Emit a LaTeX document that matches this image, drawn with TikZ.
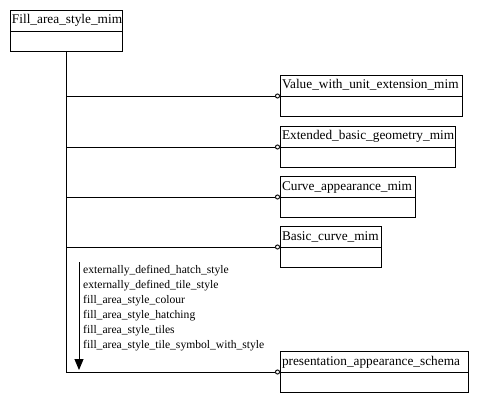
\documentclass[tikz,border=0pt]{standalone}
\usepackage{fontspec}
\setmainfont{Liberation Serif}
\usetikzlibrary{arrows.meta,positioning}

\begin{document}
\begin{tikzpicture}[x=1pt, y=-1pt,
    title/.style={draw, line width=0.9pt, outer sep=0pt, anchor=north west, minimum height=21pt, inner xsep=2pt, inner ysep=0pt, text height=10pt, text depth=3pt, font=\fontsize{13.3}{15}\selectfont},
    body/.style={draw, line width=0.9pt, outer sep=0pt, anchor=north west, minimum height=20pt},
    link/.style={line width=0.9pt, -{Circle[open, length=5pt, width=5pt]}},
    attr/.style={anchor=west, inner sep=0pt, font=\fontsize{11.6}{13}\selectfont}
]
\useasboundingbox (0,0) rectangle (478,403);
% schema boxes
\node[title, minimum width=112pt, text width=108pt] (fill) at (10,10) {Fill\_area\_style\_mim};
\node[body, minimum width=112pt] (fillb) at (fill.south west) {};
\node[title, minimum width=182pt, text width=178pt] (value) at (280,75) {Value\_with\_unit\_extension\_mim};
\node[body, minimum width=182pt] (valueb) at (value.south west) {};
\node[title, minimum width=175pt, text width=171pt] (geom) at (280,126) {Extended\_basic\_geometry\_mim};
\node[body, minimum width=175pt] (geomb) at (geom.south west) {};
\node[title, minimum width=135pt, text width=131pt] (curveapp) at (280,176) {Curve\_appearance\_mim};
\node[body, minimum width=135pt] (curveappb) at (curveapp.south west) {};
\node[title, minimum width=101pt, text width=97pt] (curve) at (280,226) {Basic\_curve\_mim};
\node[body, minimum width=101pt] (curveb) at (curve.south west) {};
\node[title, minimum width=188pt, text width=184pt] (pres) at (280,351) {presentation\_appearance\_schema};
\node[body, minimum width=188pt] (presb) at (pres.south west) {};
% trunk
\coordinate (trunk) at (66,0);
\draw[line width=0.9pt] (fillb.south -| trunk) -- (pres.south west -| trunk);
\draw[link] (value.south west -| trunk) -- (value.south west);
\draw[link] (geom.south west -| trunk) -- (geom.south west);
\draw[link] (curveapp.south west -| trunk) -- (curveapp.south west);
\draw[link] (curve.south west -| trunk) -- (curve.south west);
\draw[link] (pres.south west -| trunk) -- (pres.south west);
% imported items
\coordinate (itop) at (79,262);
\coordinate (ibot) at (79,370);
\draw[line width=0.9pt, -{Triangle[length=11pt, width=9pt]}] (itop) -- (ibot);
\node[attr] (i1) at (83,271) {externally\_defined\_hatch\_style};
\node[attr] (i2) at (83,286) {externally\_defined\_tile\_style};
\node[attr] (i3) at (83,301) {fill\_area\_style\_colour};
\node[attr] (i4) at (83,316) {fill\_area\_style\_hatching};
\node[attr] (i5) at (83,331) {fill\_area\_style\_tiles};
\node[attr] (i6) at (83,346) {fill\_area\_style\_tile\_symbol\_with\_style};
\end{tikzpicture}
\end{document}
